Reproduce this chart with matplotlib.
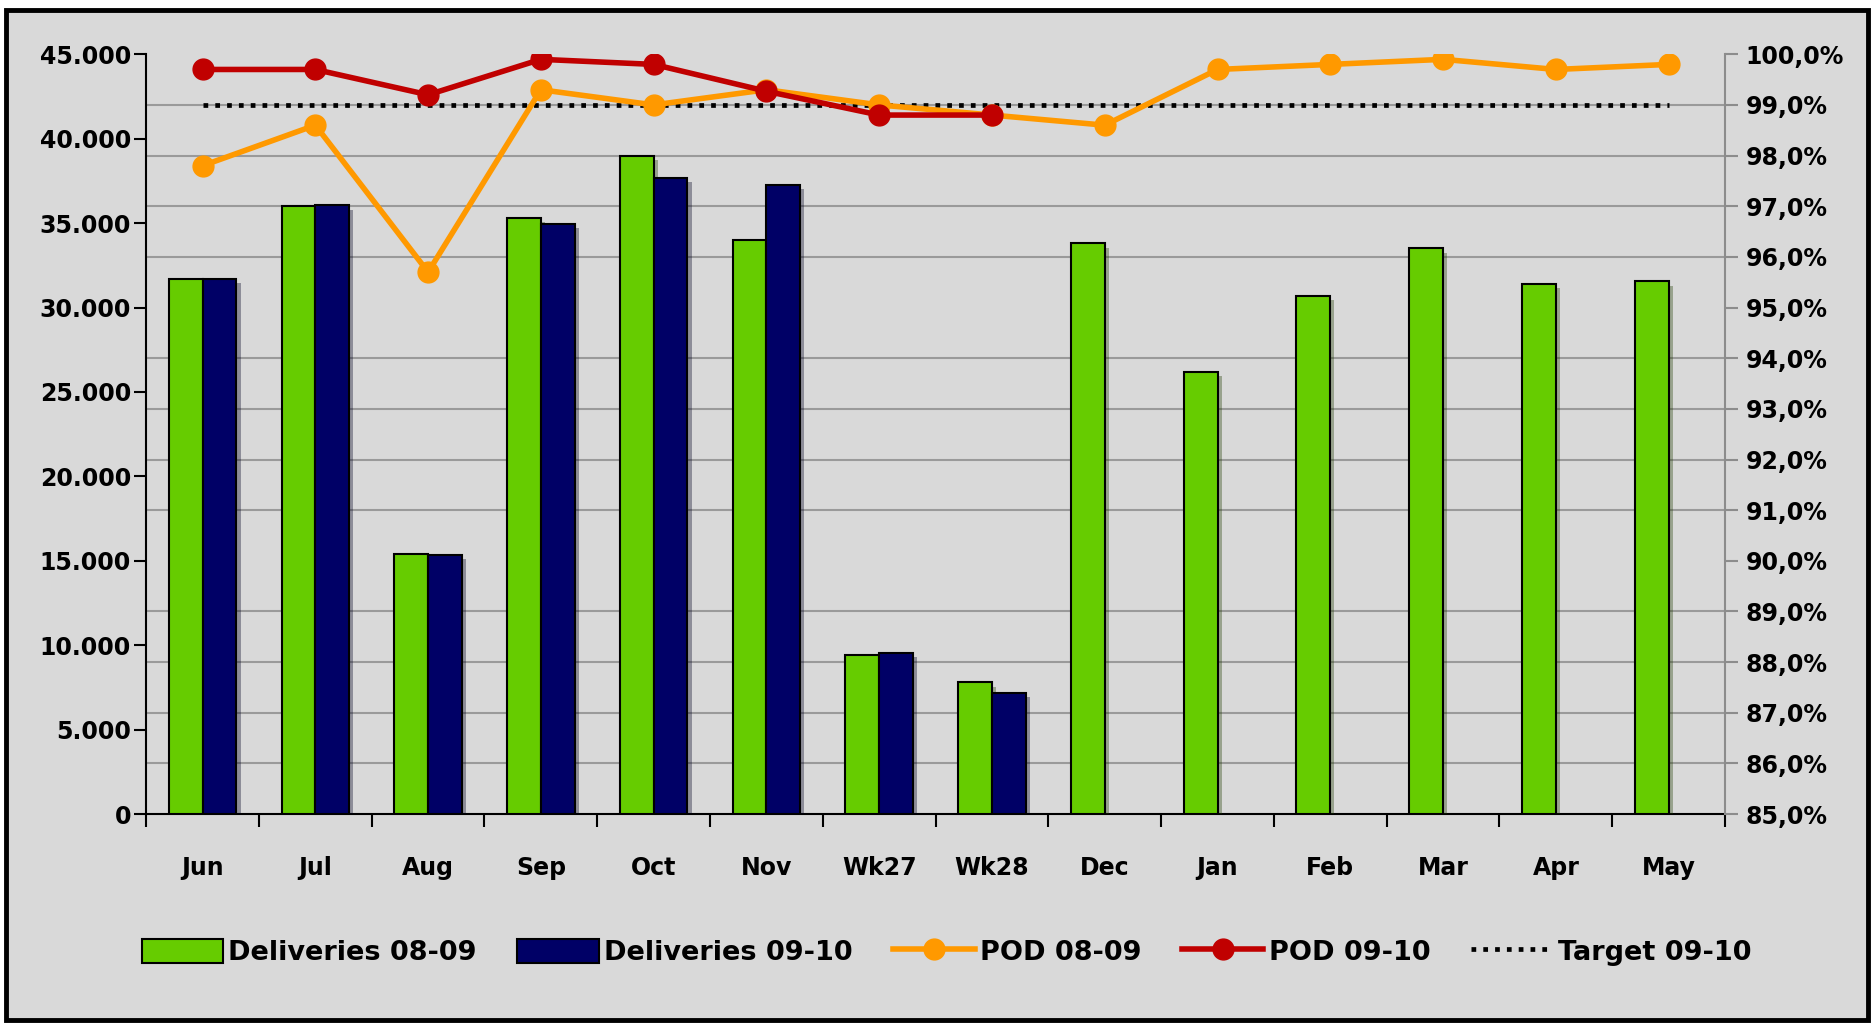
import numpy as np
import matplotlib.pyplot as plt
import matplotlib.patches as patches
import matplotlib.patheffects as pe
from matplotlib.lines import Line2D
from matplotlib.ticker import FuncFormatter

months = ['Jun', 'Jul', 'Aug', 'Sep', 'Oct', 'Nov', 'Wk27', 'Wk28',
          'Dec', 'Jan', 'Feb', 'Mar', 'Apr', 'May']
deliv_0809 = [31700, 36000, 15400, 35300, 39000, 34000, 9400, 7800,
              33800, 26200, 30700, 33500, 31400, 31550]
deliv_0910 = [31700, 36050, 15350, 34950, 37700, 37250, 9550, 7200]
pod_0809 = [97.8, 98.6, 95.7, 99.3, 99.0, 99.3, 99.0, 98.8,
            98.6, 99.7, 99.8, 99.9, 99.7, 99.8]
pod_0910 = [99.7, 99.7, 99.2, 99.9, 99.8, 99.27, 98.8, 98.8]
target_0910 = [99.0] * 14

GREEN = '#66CC00'
NAVY = '#000066'
ORANGE = '#FF9900'
RED = '#C00000'
BG = '#D9D9D9'
FS = 17

plt.rcParams['font.family'] = 'DejaVu Sans'
plt.rcParams['font.weight'] = 'bold'

fig = plt.figure(figsize=(18.74, 10.24), dpi=100, facecolor='white')
# outer chart frame
fig.patches.append(patches.Rectangle((6 / 1874, 4 / 1024), 1862 / 1874, 1010 / 1024,
                                     transform=fig.transFigure, facecolor=BG,
                                     edgecolor='black', linewidth=3.5, zorder=-10))

ax = fig.add_axes([0.078, 0.205, 0.8425, 0.742])
ax.set_facecolor(BG)
x = np.arange(len(months))
w = 0.3
shadow = [pe.SimplePatchShadow(offset=(3, -3), alpha=0.35), pe.Normal()]
b1 = ax.bar(x - w / 2, deliv_0809, w, color=GREEN, edgecolor='black', linewidth=1.5, zorder=3)
b2 = ax.bar(x[:len(deliv_0910)] + w / 2, deliv_0910, w, color=NAVY, edgecolor='black',
            linewidth=1.5, zorder=3)
for b in list(b1) + list(b2):
    b.set_path_effects(shadow)

ax.set_xlim(-0.5, len(months) - 0.5)
ax.set_ylim(0, 45000)
ax.set_yticks(np.arange(0, 45001, 5000))
ax.yaxis.set_major_formatter(FuncFormatter(lambda v, p: f'{int(v):,}'.replace(',', '.')))
ax.set_yticks(np.arange(0, 45001, 3000), minor=True)
ax.grid(which='minor', axis='y', color='#9A9A9A', linewidth=1.5, zorder=0)
ax.tick_params(axis='y', which='minor', length=0)
ax.tick_params(axis='y', which='major', length=9, width=1.5, labelsize=FS, pad=2)

ax.set_xticks(x)
ax.set_xticklabels(months)
ax.set_xticks(np.arange(-0.5, len(months), 1), minor=True)
ax.tick_params(axis='x', which='major', length=0, labelsize=FS, pad=30)
ax.tick_params(axis='x', which='minor', length=9, width=1.5)

ax.spines['top'].set_visible(False)
ax.spines['right'].set_visible(False)
ax.spines['left'].set_linewidth(1.5)
ax.spines['bottom'].set_linewidth(1.5)

ax2 = ax.twinx()
ax2.set_ylim(85, 100)
ax2.set_yticks(np.arange(85, 100.1, 1))
ax2.yaxis.set_major_formatter(FuncFormatter(lambda v, p: f'{v:.1f}%'.replace('.', ',')))
ax2.tick_params(axis='y', length=9, width=1.5, color='#8C8C8C', labelsize=FS, pad=6)
ax2.spines['right'].set_color('#8C8C8C')
ax2.spines['right'].set_linewidth(1.5)
for s in ['top', 'left', 'bottom']:
    ax2.spines[s].set_visible(False)

ax2.plot(x, target_0910, color='black', linestyle=(0, (1, 1.5)), linewidth=3.4, zorder=4)
ax2.plot(x, pod_0809, color=ORANGE, linewidth=4, marker='o', markersize=15, zorder=5)
ax2.plot(x[:len(pod_0910)], pod_0910, color=RED, linewidth=4, marker='o',
         markersize=15, zorder=6)

handles = [
    patches.Patch(facecolor=GREEN, edgecolor='black', linewidth=1.5),
    patches.Patch(facecolor=NAVY, edgecolor='black', linewidth=1.5),
    Line2D([], [], color=ORANGE, linewidth=4, marker='o', markersize=15),
    Line2D([], [], color=RED, linewidth=4, marker='o', markersize=15),
    Line2D([], [], color='black', linestyle=(0, (1, 1.5)), linewidth=3.4),
]
labels = ['Deliveries 08-09', 'Deliveries 09-10', 'POD 08-09', 'POD 09-10', 'Target 09-10']
fig.legend(handles, labels, loc='center', bbox_to_anchor=(0.505, 0.07), ncol=5,
           frameon=False, fontsize=19.5, handlelength=3.0, handleheight=1.0,
           handletextpad=0.2, columnspacing=1.5)

fig.savefig('out.png', dpi=100, facecolor='white')
